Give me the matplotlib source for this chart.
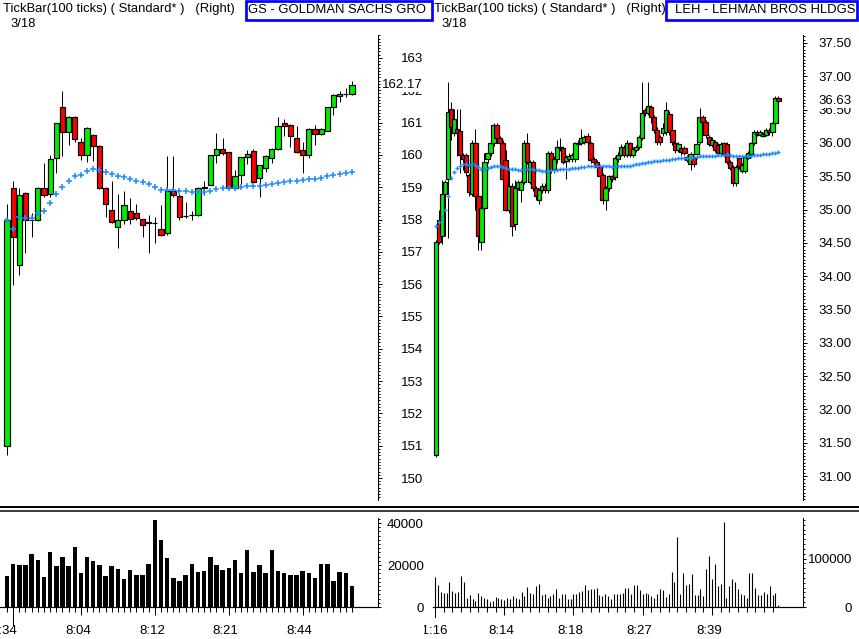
import numpy as np
import matplotlib
matplotlib.use("Agg")
import matplotlib.pyplot as plt
import matplotlib.transforms as mtransforms
from matplotlib.patches import Rectangle
from matplotlib.lines import Line2D
from matplotlib.ticker import FixedLocator, MultipleLocator

# ---------------- dados GS (Goldman Sachs) ----------------
gs_open = [151.00, 158.98, 156.60, 158.82, 157.98, 157.98, 158.98, 158.79, 159.90, 161.48,
           160.70, 161.17, 160.40, 160.00, 160.62, 160.28, 158.98, 158.29, 157.77, 157.98,
           158.26, 158.20, 158.01, 157.89, 157.90, 157.70, 157.58, 158.88, 158.73, 158.10,
           158.14, 158.14, 158.98, 159.07, 160.00, 160.18, 160.09, 158.98, 159.38, 159.93,
           160.12, 159.28, 159.59, 159.90, 160.18, 160.99, 160.92, 160.52, 160.15, 160.00,
           160.80, 160.65, 160.74, 161.48, 161.82, 161.88, 161.88]
gs_high = [158.48, 159.19, 158.98, 158.85, 158.20, 159.00, 159.75, 160.00, 161.00, 161.98,
           161.20, 161.20, 160.52, 160.85, 160.65, 160.30, 159.00, 159.19, 158.79, 158.88,
           158.67, 158.48, 158.01, 158.14, 158.08, 158.45, 159.97, 159.97, 158.80, 158.54,
           158.26, 159.00, 159.20, 160.00, 160.68, 160.52, 160.10, 159.53, 159.95, 160.15,
           160.18, 159.70, 160.00, 160.20, 161.17, 161.11, 160.95, 160.89, 160.40, 160.83,
           160.92, 160.83, 161.48, 161.88, 161.98, 162.07, 162.29]
gs_low = [150.70, 155.97, 156.28, 156.96, 157.45, 157.95, 158.70, 158.70, 159.44, 159.97,
          160.30, 160.40, 159.84, 159.78, 159.81, 158.95, 158.08, 157.90, 157.12, 157.86,
          157.86, 158.00, 157.46, 156.96, 157.27, 157.50, 157.52, 158.70, 157.98, 158.05,
          157.98, 158.10, 158.76, 159.07, 159.75, 160.00, 158.95, 158.95, 159.10, 159.72,
          159.15, 158.70, 159.47, 159.75, 160.15, 160.58, 160.24, 160.05, 159.44, 159.90,
          160.30, 160.60, 160.74, 161.23, 161.64, 161.79, 161.85]
gs_close = [157.98, 157.46, 158.76, 157.98, 157.98, 158.98, 158.76, 159.87, 160.99, 160.70,
            161.17, 160.49, 160.00, 160.83, 160.28, 158.98, 158.48, 157.92, 157.98, 158.45,
            158.01, 158.04, 157.83, 157.92, 157.88, 157.52, 158.88, 158.76, 158.08, 158.11,
            158.14, 158.98, 159.00, 160.00, 160.18, 160.06, 158.98, 159.35, 159.93, 160.03,
            159.16, 159.68, 159.97, 160.18, 160.89, 160.89, 160.58, 160.09, 160.00, 160.80,
            160.65, 160.80, 161.48, 161.85, 161.88, 161.88, 162.17]
gs_media = [157.98, 157.71, 158.08, 158.05, 158.05, 158.20, 158.26, 158.51, 158.79, 159.01,
            159.19, 159.35, 159.38, 159.50, 159.56, 159.53, 159.47, 159.41, 159.35, 159.32,
            159.25, 159.19, 159.16, 159.10, 159.01, 158.91, 158.91, 158.91, 158.88, 158.88,
            158.85, 158.85, 158.85, 158.88, 158.94, 158.98, 158.98, 158.98, 159.01, 159.04,
            159.04, 159.04, 159.07, 159.10, 159.13, 159.16, 159.19, 159.19, 159.22, 159.25,
            159.25, 159.28, 159.35, 159.38, 159.41, 159.44, 159.47]
gs_volume = [14900, 20500, 20000, 20000, 25300, 22400, 14400, 26200, 19700, 24000,
             19700, 28800, 16200, 24000, 21900, 20000, 14900, 19700, 18100, 13300,
             17600, 15200, 15200, 20500, 41300, 32000, 23400, 13800, 12300, 15200,
             20500, 16600, 17100, 24000, 20000, 17600, 18600, 22400, 16200, 27200,
             16600, 20000, 16200, 27200, 17100, 16200, 15200, 15200, 17100, 16200,
             13800, 20500, 20500, 12300, 16600, 16200, 10100]
gs_precos = list(range(150, 164))
gs_horas = ['7:34', '8:04', '8:12', '8:21', '8:44']
gs_horas_pos = [0, 12, 24, 36, 48]

# ---------------- dados LEH (Lehman Brothers) ----------------
leh_open = [31.31, 34.85, 34.61, 35.23, 35.46, 36.51, 36.15, 36.21, 36.18, 35.82,
            35.82, 35.52, 35.23, 36.00, 35.21, 34.51, 35.03, 35.76, 35.85, 36.00,
            36.27, 36.07, 36.00, 35.74, 35.00, 35.36, 34.79, 35.33, 35.29, 35.41,
            36.00, 35.41, 35.71, 35.32, 35.15, 35.30, 35.36, 35.29, 35.85, 35.61,
            35.76, 35.94, 35.92, 35.73, 35.76, 35.76, 35.76, 35.98, 36.00, 36.01,
            36.10, 36.00, 35.76, 35.71, 35.64, 35.52, 35.15, 35.32, 35.50, 35.49,
            35.76, 35.82, 35.94, 35.82, 36.00, 35.82, 35.89, 35.94, 36.08, 36.50,
            36.45, 36.54, 36.39, 36.20, 36.09, 36.15, 36.17, 36.44, 36.20, 36.00,
            35.89, 35.92, 35.92, 35.79, 35.68, 35.77, 35.84, 36.02, 36.39, 36.32,
            36.09, 35.97, 36.02, 35.97, 35.85, 36.00, 35.98, 35.71, 35.64, 35.40,
            35.78, 35.58, 35.58, 35.78, 35.84, 36.00, 36.17, 36.12, 36.10, 36.12,
            36.20, 36.17, 36.30, 36.68]
leh_high = [34.55, 35.00, 35.45, 35.45, 36.91, 36.61, 36.51, 36.51, 36.51, 35.85,
            35.85, 35.55, 36.05, 36.21, 35.25, 35.10, 35.85, 35.90, 36.10, 36.30,
            36.30, 36.10, 36.05, 35.90, 35.61, 35.40, 35.45, 35.45, 35.45, 36.05,
            36.15, 35.75, 35.75, 35.35, 35.32, 35.40, 35.40, 35.88, 35.88, 35.80,
            36.04, 36.07, 35.95, 35.82, 35.85, 35.85, 36.02, 36.04, 36.21, 36.12,
            36.15, 36.02, 35.79, 35.74, 35.67, 35.55, 35.36, 35.52, 35.52, 35.80,
            35.86, 35.98, 35.97, 36.04, 36.02, 35.94, 35.97, 36.12, 36.92, 36.53,
            36.91, 36.57, 36.42, 36.24, 36.12, 36.30, 36.62, 36.48, 36.24, 36.02,
            36.01, 35.95, 35.95, 35.82, 35.86, 35.80, 36.02, 36.53, 36.42, 36.34,
            36.12, 36.09, 36.04, 36.00, 36.01, 36.02, 36.01, 35.74, 35.67, 35.67,
            35.82, 35.70, 35.82, 35.88, 36.02, 36.20, 36.20, 36.20, 36.16, 36.22,
            36.22, 36.32, 36.70, 36.70]
leh_low = [31.28, 34.49, 34.49, 34.60, 34.57, 36.04, 36.10, 35.80, 35.55, 35.60,
           35.50, 35.20, 35.20, 35.00, 34.39, 34.39, 34.91, 35.70, 35.80, 35.95,
           36.00, 35.95, 35.40, 34.98, 34.95, 34.61, 34.70, 35.30, 35.11, 35.38,
           35.68, 35.38, 35.28, 35.15, 35.09, 35.25, 35.25, 35.25, 35.55, 35.55,
           35.70, 35.88, 35.68, 35.46, 35.72, 35.72, 35.72, 35.95, 35.97, 35.98,
           35.98, 35.70, 35.68, 35.60, 35.46, 35.09, 35.00, 35.28, 35.42, 35.45,
           35.72, 35.80, 35.79, 35.79, 35.79, 35.79, 35.86, 35.91, 36.05, 36.40,
           36.42, 36.30, 36.15, 35.97, 35.97, 36.10, 36.12, 36.12, 35.97, 35.85,
           35.86, 35.82, 35.82, 35.72, 35.60, 35.64, 35.82, 35.98, 36.28, 36.07,
           35.95, 35.94, 35.86, 35.82, 35.82, 35.82, 35.68, 35.60, 35.36, 35.36,
           35.61, 35.55, 35.55, 35.76, 35.82, 35.97, 36.10, 36.10, 36.09, 36.10,
           36.12, 36.10, 36.28, 36.60]
leh_close = [34.51, 34.51, 35.23, 35.41, 36.46, 36.24, 36.36, 36.15, 35.82, 35.76,
             35.56, 35.26, 36.00, 35.21, 34.61, 35.03, 35.71, 35.85, 36.00, 36.27,
             36.07, 36.00, 35.46, 35.00, 35.36, 34.76, 35.33, 35.41, 35.41, 36.00,
             35.71, 35.71, 35.32, 35.21, 35.30, 35.36, 35.29, 35.85, 35.61, 35.76,
             35.94, 35.92, 35.71, 35.79, 35.80, 35.82, 36.00, 36.00, 36.07, 36.09,
             36.01, 35.74, 35.71, 35.64, 35.50, 35.15, 35.33, 35.50, 35.46, 35.77,
             35.82, 35.94, 35.82, 36.00, 35.82, 35.91, 35.94, 36.09, 36.45, 36.45,
             36.55, 36.39, 36.20, 36.02, 36.02, 36.23, 36.50, 36.17, 36.02, 35.89,
             35.98, 35.86, 35.85, 35.75, 35.83, 35.68, 35.98, 36.39, 36.32, 36.12,
             35.99, 36.05, 35.89, 35.85, 35.98, 35.84, 35.71, 35.63, 35.40, 35.64,
             35.64, 35.67, 35.79, 35.85, 36.00, 36.17, 36.14, 36.17, 36.14, 36.20,
             36.17, 36.30, 36.68, 36.63]
leh_media = [34.76, 34.81, 34.87, 34.99, 35.21, 35.47, 35.56, 35.62, 35.65, 35.68,
             35.68, 35.67, 35.70, 35.67, 35.64, 35.61, 35.61, 35.62, 35.64, 35.65,
             35.65, 35.65, 35.64, 35.62, 35.61, 35.61, 35.61, 35.59, 35.59, 35.61,
             35.61, 35.61, 35.61, 35.59, 35.59, 35.58, 35.58, 35.58, 35.59, 35.59,
             35.59, 35.61, 35.61, 35.61, 35.61, 35.62, 35.62, 35.62, 35.64, 35.64,
             35.65, 35.65, 35.65, 35.65, 35.65, 35.65, 35.65, 35.65, 35.64, 35.65,
             35.65, 35.65, 35.65, 35.65, 35.65, 35.67, 35.68, 35.68, 35.70, 35.70,
             35.71, 35.71, 35.73, 35.73, 35.73, 35.74, 35.75, 35.75, 35.76, 35.76,
             35.77, 35.78, 35.78, 35.78, 35.78, 35.79, 35.79, 35.80, 35.80, 35.81,
             35.81, 35.81, 35.81, 35.82, 35.82, 35.82, 35.83, 35.82, 35.81, 35.81,
             35.81, 35.81, 35.81, 35.81, 35.81, 35.82, 35.82, 35.82, 35.83, 35.84,
             35.84, 35.85, 35.85, 35.86]
leh_volume = [61600, 45200, 31500, 28800, 28800, 50700, 32900, 28800, 31500, 63700,
              50700, 17800, 24700, 17100, 12300, 28800, 21900, 18500, 15800, 11000,
              12300, 20500, 17800, 15800, 14400, 19200, 16400, 22600, 17800, 17100,
              30800, 22600, 41800, 29500, 27400, 43200, 46600, 24700, 27400, 17800,
              22600, 26000, 36300, 19200, 26000, 27400, 15800, 15800, 27400, 27400,
              30800, 32900, 44500, 34200, 36300, 36300, 39700, 24000, 22600, 27400,
              22600, 17100, 27400, 27400, 27400, 29500, 38400, 39700, 27400, 44500,
              44500, 34200, 26000, 29500, 27400, 21900, 17800, 27400, 36300, 34200,
              20500, 26000, 72600, 52100, 145200, 27400, 70500, 44500, 46600, 68500,
              24700, 24700, 36300, 22600, 79500, 106200, 58900, 89700, 43200, 46600,
              175300, 17800, 43200, 58900, 50700, 36300, 27400, 24700, 19200, 70500,
              70500, 38400, 24700, 24700, 31500, 27400, 43200, 24700, 29500, 4100]
leh_precos = [31.0, 31.5, 32.0, 32.5, 33.0, 33.5, 34.0, 34.5, 35.0, 35.5, 36.0, 36.5, 37.0, 37.5]
leh_horas = ['11:16', '8:14', '8:18', '8:27', '8:39']
leh_horas_pos = [0, 24, 48, 72, 96]

# ---------------- aparência ----------------
W, H, DPI = 859, 639, 100
VERDE = '#00ee00'
VERMELHO = '#ff0000'
AZUL = '#1e8cff'
AZUL_CAIXA = '#0000ff'
FS = 9.5

plt.rcParams['font.family'] = ['Liberation Sans Narrow', 'Liberation Sans', 'DejaVu Sans']


def px(v):
    # pixels -> pontos
    return v * 72.0 / DPI


def fx(x):
    return x / W


def fy(y):
    return 1 - y / H


fig = plt.figure(figsize=(W / DPI, H / DPI), dpi=DPI)
fig.patch.set_facecolor('white')


def eixo(x0, y0, x1, y1):
    return fig.add_axes([fx(x0), fy(y1), (x1 - x0) / W, (y1 - y0) / H])


ax_gs = eixo(0, 35, 378, 500)
ax_gs_vol = eixo(0, 518, 378, 607)
ax_leh = eixo(433, 35, 803, 500)
ax_leh_vol = eixo(433, 518, 803, 607)


def candles(ax, o, h, l, c, largura):
    o, h, l, c = map(np.asarray, (o, h, l, c))
    x = np.arange(len(o))
    ax.vlines(x, l, h, color='black', lw=px(1), zorder=2)
    cores = np.where(c > o, VERDE, np.where(c < o, VERMELHO, 'black'))
    ax.bar(x, np.abs(c - o), largura, bottom=np.minimum(o, c), color=cores,
           edgecolor='black', lw=px(1.2), zorder=3)


def eixo_preco(ax, ticks, rotulos, minor, ultimo, texto_ultimo, label_x):
    for s in ['top', 'left', 'bottom']:
        ax.spines[s].set_visible(False)
    ax.spines['right'].set_linewidth(px(1))
    ax.set_xticks([])
    ax.yaxis.tick_right()
    ax.set_yticks(ticks)
    ax.set_yticklabels(rotulos, ha='right')
    ax.yaxis.set_minor_locator(MultipleLocator(minor))
    spine_x = ax.get_position().x1 * W
    ax.tick_params(axis='y', which='major', direction='out', length=px(4), width=px(1),
                   pad=px(label_x - spine_x - 4), labelsize=FS)
    ax.tick_params(axis='y', which='minor', direction='out', length=px(2), width=px(1))
    tr = mtransforms.blended_transform_factory(fig.transFigure, ax.transData)
    ax.text(fx(label_x), ultimo, texto_ultimo, transform=tr, ha='right', va='center', fontsize=FS,
            clip_on=False, zorder=10,
            bbox=dict(facecolor='white', edgecolor='none', pad=0.6))


# ---- GS preço ----
candles(ax_gs, gs_open, gs_high, gs_low, gs_close, 0.85)
ax_gs.plot(range(len(gs_media)), gs_media, ls='none', marker='+', ms=3.8, mew=1.1, color=AZUL, zorder=4)
ax_gs.set_xlim(-7 / 6.16, (378 - 7) / 6.16)
ax_gs.set_ylim(149.32, 163.71)
eixo_preco(ax_gs, gs_precos, [str(p) for p in gs_precos], 0.1,
           gs_close[-1], f'{gs_close[-1]:.2f}', 423)

# ---- LEH preço ----
candles(ax_leh, leh_open, leh_high, leh_low, leh_close, 1.45)
ax_leh.plot(range(len(leh_media)), leh_media, ls='none', marker='+', ms=3.5, mew=1.0, color=AZUL, zorder=4)
ax_leh.set_xlim((433 - 436) / 3.03, (803 - 436) / 3.03)
ax_leh.set_ylim(30.64, 37.62)
eixo_preco(ax_leh, leh_precos, [f'{p:.2f}' for p in leh_precos], 0.05,
           leh_close[-1], f'{leh_close[-1]:.2f}', 852)


# ---- volumes ----
def eixo_volume(ax, yticks, ymax, minor, label_x, menores, maiores, pos_longo, long_len,
                horas, horas_pos, clip_x=None):
    for s in ['top', 'left']:
        ax.spines[s].set_visible(False)
    ax.spines['right'].set_linewidth(px(1))
    ax.spines['bottom'].set_linewidth(px(1.2))
    ax.set_ylim(0, ymax)
    ax.yaxis.tick_right()
    ax.set_yticks(yticks)
    ax.set_yticklabels([str(v) for v in yticks], ha='right')
    ax.yaxis.set_minor_locator(MultipleLocator(minor))
    spine_x = ax.get_position().x1 * W
    ax.tick_params(axis='y', which='major', direction='out', length=px(3), width=px(1),
                   pad=px(label_x - spine_x - 3), labelsize=FS)
    ax.tick_params(axis='y', which='minor', direction='out', length=px(1.5), width=px(1))
    ax.xaxis.set_major_locator(FixedLocator(maiores))
    ax.xaxis.set_minor_locator(FixedLocator(menores))
    ax.tick_params(axis='x', which='major', direction='out', length=px(8), width=px(1), labelbottom=False)
    ax.tick_params(axis='x', which='minor', direction='out', length=px(5), width=px(1))
    trx = mtransforms.blended_transform_factory(ax.transData, fig.transFigure)
    ax.add_line(Line2D([pos_longo, pos_longo], [fy(607), fy(607 + long_len)], transform=trx,
                       color='black', lw=px(1), clip_on=False))
    # rótulos de hora ligeiramente à esquerda do tick, como no original
    trx_txt = trx + mtransforms.ScaledTranslation(-3 / DPI, 0, fig.dpi_scale_trans)
    for p, t in zip(horas_pos, horas):
        txt = fig.text(p, fy(631), t, transform=trx_txt, ha='center', va='center', fontsize=FS)
        if clip_x is not None:
            txt.set_clip_on(True)
            txt.set_clip_box(mtransforms.TransformedBbox(
                mtransforms.Bbox([[fx(clip_x), 0], [1, 1]]), fig.transFigure))


ax_gs_vol.bar(range(len(gs_volume)), gs_volume, 0.73, color='black', lw=0)
ax_gs_vol.set_xlim(-7 / 6.16, (378 - 7) / 6.16)
eixo_volume(ax_gs_vol, [0, 20000, 40000], 42400, 2000, 424,
            list(range(len(gs_volume))), [12, 24, 36, 48], 1, 18, gs_horas, gs_horas_pos)

ax_leh_vol.vlines(range(len(leh_volume)), 0, leh_volume, color='black', lw=px(1.1))
ax_leh_vol.set_xlim((433 - 435) / 2.885, (803 - 435) / 2.885)
eixo_volume(ax_leh_vol, [0, 100000], 184000, 10000, 852,
            list(range(0, len(leh_volume), 3)), [24, 48, 72, 96], 0, 10, leh_horas, leh_horas_pos,
            clip_x=424)

# ---- separador duplo ----
fig.add_artist(Line2D([0, 1], [fy(506.5), fy(506.5)], transform=fig.transFigure, color='black', lw=px(2)))
fig.add_artist(Line2D([0, 1], [fy(510.5), fy(510.5)], transform=fig.transFigure, color='black', lw=px(1.5)))

# ---- cabeçalhos ----
cab = 'TickBar(100 ticks) ( Standard* )   (Right)'
for x_tit, x_cx0, x_cx1, x_nome, nome in [(3, 245, 433, 248, 'GS - GOLDMAN SACHS GRO'),
                                          (434, 665, 858, 675, 'LEH - LEHMAN BROS HLDGS')]:
    fig.text(fx(x_tit), fy(9), cab, ha='left', va='center', fontsize=9.4, family='Liberation Sans')
    fig.text(fx(x_tit + 7), fy(24), '3/18', ha='left', va='center', fontsize=9.4, family='Liberation Sans')
    fig.add_artist(Rectangle((fx(x_cx0 + 1.35), fy(21 - 1.35)), (x_cx1 - x_cx0 - 2.7) / W, (21 - 2.7) / H,
                             transform=fig.transFigure, fill=False, edgecolor=AZUL_CAIXA, lw=px(2.7)))
    fig.text(fx(x_nome), fy(10), nome, ha='left', va='center', fontsize=9.4, family='Liberation Sans')

fig.savefig('out.png', dpi=DPI, facecolor='white')
